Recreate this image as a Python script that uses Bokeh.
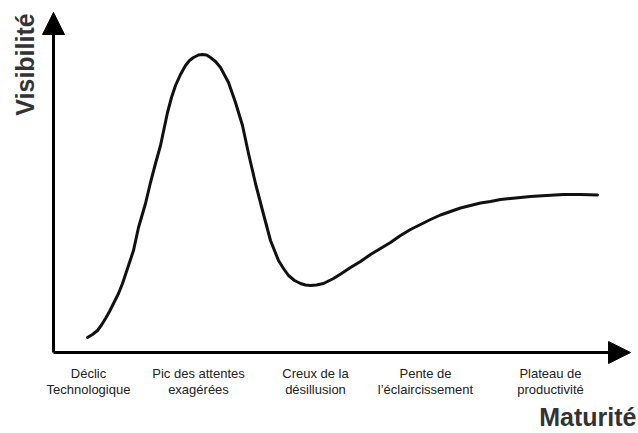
from bokeh.plotting import figure
from bokeh.models import Range1d, Arrow, NormalHead, ColumnDataSource
from bokeh.core.properties import value
from bokeh.embed import file_html
from bokeh.resources import INLINE
import math

# Hype cycle curve (maturity, visibility)
maturity = [34, 39, 44, 48, 52, 56, 60, 65, 69, 75, 80, 85, 92, 97, 102, 107, 114, 118, 122, 127, 132,
            136, 140, 145, 149, 153, 157, 162, 167, 175, 182, 189, 195, 202, 209, 217, 225, 230, 235,
            241, 247, 252, 257, 263, 270, 280, 288, 297, 307, 317, 327, 337, 347, 357, 367, 377,
            387, 397, 407, 417, 427, 437, 447, 457, 467, 477, 493, 510, 527, 544]
visibility = [15, 18, 22, 27.5, 34, 41, 49, 59, 69, 87, 102, 125, 149, 170, 189, 207, 240, 255, 267, 278, 287,
              292, 295, 297.5, 298, 297.5, 295, 291, 285, 270, 250, 227, 199, 169, 142, 112, 92, 84, 77,
              72, 69, 67.5, 67, 67.5, 69, 74, 79, 85, 91, 98, 104, 110, 117, 123, 128, 133,
              137.5, 141, 144.5, 147, 149.5, 151, 153, 154, 155, 156, 157, 158, 158, 157.5]

# Phase labels along the maturity axis
phases = ["Déclic\nTechnologique", "Pic des attentes\nexagérées", "Creux de la\ndésillusion",
          "Pente de\nl’éclaircissement", "Plateau de\nproductivité"]
phase_x = [35, 145, 262, 372, 497]

x_max = 577
y_max = 340

p = figure(width=638, height=433, output_backend="svg", toolbar_location=None,
           x_range=Range1d(-53, 585), y_range=Range1d(-81, 352), min_border=0)
p.axis.visible = False
p.grid.visible = False
p.outline_line_color = None
p.background_fill_color = "white"
p.border_fill_color = "white"

# axes as arrows
p.add_layout(Arrow(x_start=0, y_start=0, x_end=0, y_end=y_max, line_width=3, line_color="black",
                   end=NormalHead(size=22, fill_color="black", line_color="black", line_width=1)))
p.add_layout(Arrow(x_start=0, y_start=0, x_end=x_max, y_end=0, line_width=3, line_color="black",
                   end=NormalHead(size=22, fill_color="black", line_color="black", line_width=1)))

p.line(maturity, visibility, line_width=3, line_color="#111111", line_join="round", line_cap="round")

src = ColumnDataSource(dict(x=phase_x, y=[-13] * len(phases), t=phases))
p.text(x="x", y="y", text="t", source=src, text_font=value("Liberation Sans"),
       text_font_size="13px", text_align="center", text_baseline="top",
       text_color="#222222", text_line_height=1.1)

p.text(x=[-29], y=[288], text=["Visibilité"], angle=math.pi / 2, text_font=value("Liberation Sans"),
       text_font_style="bold", text_font_size="25px", text_align="center", text_baseline="middle",
       text_color="#333333")
p.text(x=[583], y=[-78], text=["Maturité"], text_font=value("Liberation Sans"),
       text_font_style="bold", text_font_size="25px", text_align="right", text_baseline="bottom",
       text_color="#333333")

open("out.html", "w").write(file_html(p, INLINE))
